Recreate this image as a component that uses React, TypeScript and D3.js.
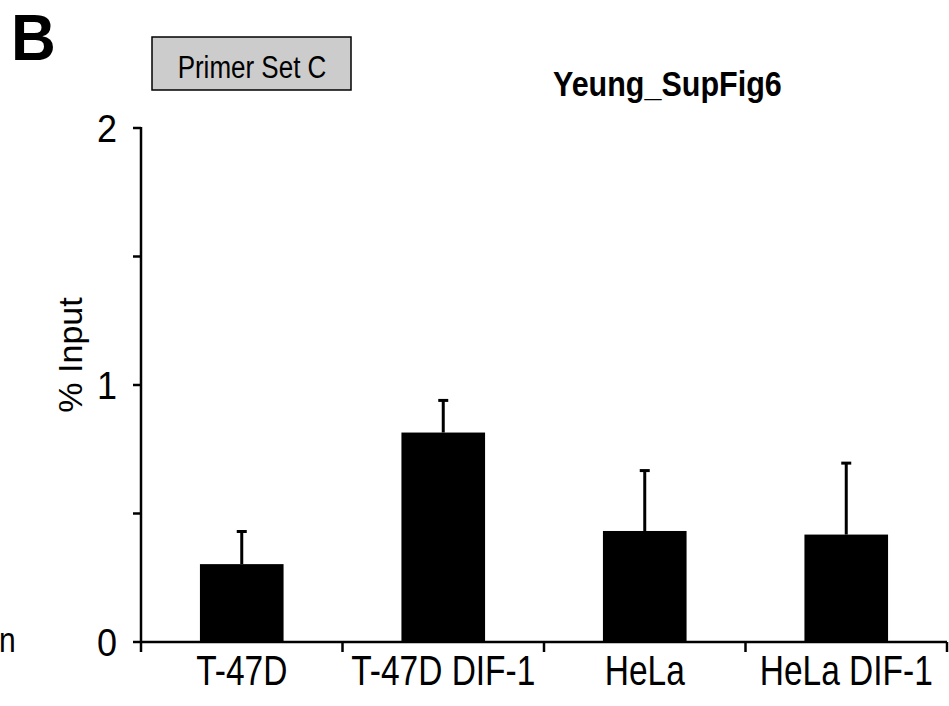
import React from "react";
import * as d3 from "d3";

const categories = ["T-47D", "T-47D DIF-1", "HeLa", "HeLa DIF-1"];
const means = [0.303, 0.815, 0.432, 0.418];
const errors = [0.127, 0.125, 0.235, 0.278];
const yTicks = [0, 0.5, 1, 1.5, 2];
const yTickLabels = ["0", "", "1", "", "2"];

const W = 949;
const H = 706;
const X0 = 141;
const X1 = 947;
const Y0 = 642;
const Y1 = 128;
const FONT = "'Liberation Sans', Arial, Helvetica, sans-serif";

function T({ x, y, size, sy = 1.15, anchor = "start", bold = false, children }: any) {
  return (
    <text
      transform={`translate(${x},${y}) scale(1,${sy})`}
      textAnchor={anchor}
      fontFamily={FONT}
      fontWeight={bold ? "bold" : "normal"}
      fontSize={size}
    >
      {children}
    </text>
  );
}

export default function App() {
  const y = d3.scaleLinear().domain([0, 2]).range([Y0, Y1]);
  const xb = d3.scaleBand<string>().domain(categories).range([X0, X1]).paddingInner(0.585).paddingOuter(0.2925);
  const xs = d3.scaleBand<string>().domain(categories).range([X0, X1]).padding(0);
  const bounds = categories.map((c) => xs(c)!).concat([X1]);
  return (
    <svg width={W} height={H} style={{ position: "absolute", left: 0, top: 0, background: "#fff" }}>
      <rect x={0} y={0} width={W} height={H} fill="#fff" />
      <T x={11} y={60} size={62} sy={1.05} bold>B</T>
      <rect x={152} y={37} width={199} height={53} fill="#cccccc" stroke="#000" strokeWidth={1.5} />
      <T x={252} y={78} size={26} sy={1.2} anchor="middle">Primer Set C</T>
      <T x={553} y={96} size={30.5} sy={1.15} bold>Yeung_SupFig6</T>
      <T x={-1} y={652} size={30} sy={1.15}>n</T>

      {categories.map((c, i) => {
        const bx = xb(c)!;
        const bw = xb.bandwidth();
        const cx = bx + bw / 2;
        const top = y(means[i]);
        const etop = y(means[i] + errors[i]);
        return (
          <g key={c}>
            <rect x={bx} y={top} width={bw} height={Y0 - top} fill="#000" />
            <line x1={cx} x2={cx} y1={top} y2={etop} stroke="#000" strokeWidth={3} />
            <line x1={cx - 5} x2={cx + 5} y1={etop} y2={etop} stroke="#000" strokeWidth={3} />
            <T x={cx} y={685} size={33.5} sy={1.25} anchor="middle">{c}</T>
          </g>
        );
      })}

      <line x1={X0} x2={X0} y1={Y1 - 1} y2={Y0} stroke="#000" strokeWidth={2.5} />
      <line x1={X0 - 1} x2={X1} y1={Y0} y2={Y0} stroke="#000" strokeWidth={2.5} />
      {yTicks.map((t, i) => (
        <g key={t}>
          <line x1={X0 - 8} x2={X0} y1={y(t)} y2={y(t)} stroke="#000" strokeWidth={2.5} />
          {yTickLabels[i] && (
            <T x={117} y={y(t) + 14} size={36} sy={1.1} anchor="end">{yTickLabels[i]}</T>
          )}
        </g>
      ))}
      {bounds.map((bx, i) => (
        <line key={i} x1={bx} x2={bx} y1={Y0} y2={Y0 + 10} stroke="#000" strokeWidth={2.5} />
      ))}
      <text transform={`translate(82,355) rotate(-90)`} textAnchor="middle" fontFamily={FONT} fontSize={34}>% Input</text>
    </svg>
  );
}
